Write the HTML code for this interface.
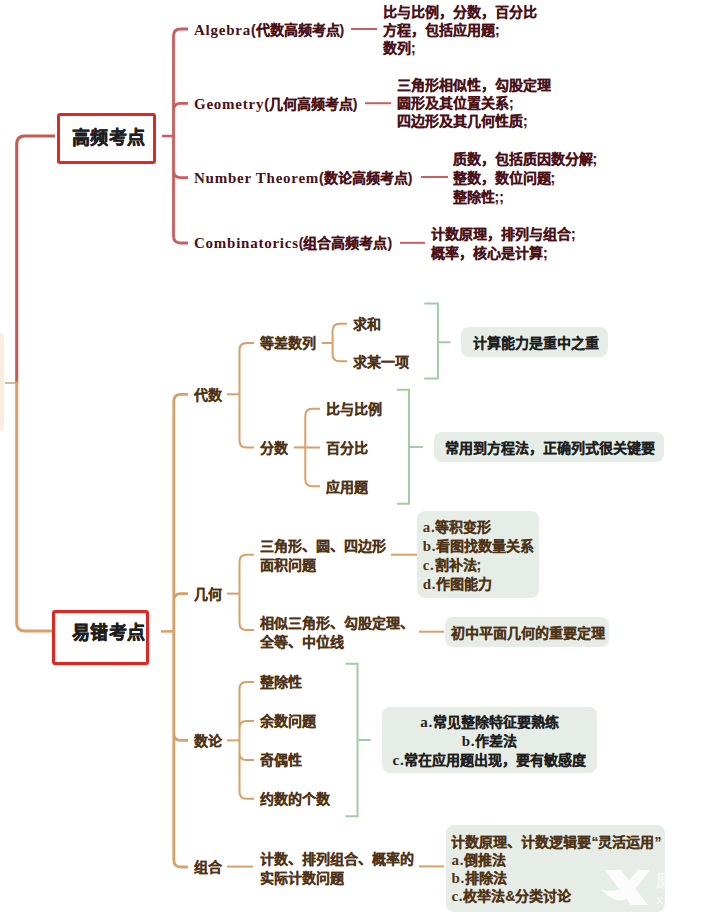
<!DOCTYPE html>
<html lang="zh-CN"><head><meta charset="utf-8">
<style>
html,body{margin:0;padding:0;background:#fff;}
body{width:725px;height:913px;position:relative;overflow:hidden;font-family:"Liberation Sans",sans-serif;}
.t{position:absolute;white-space:nowrap;font-size:14px;font-weight:bold;-webkit-text-stroke:0.15px currentColor;}
.r{color:#4a1016;}
.o{color:#4f3316;}
.k{color:#1e1e1e;}
.en{font-family:"Liberation Serif",serif;letter-spacing:0.75px;font-size:15px;-webkit-text-stroke:0;}
.box{position:absolute;background:#e6ede6;border-radius:8px;}
.nb{position:absolute;border:3px solid #e3261f;border-radius:3px;box-sizing:border-box;}
svg{position:absolute;left:0;top:0;}
</style></head><body>
<div style="position:absolute;left:-10px;top:333px;width:13.6px;height:98px;background:#fcecdf;border-radius:5px;"></div>
<svg width="725" height="913" fill="none"><path d="M16.7 383 V144 Q16.7 136 24.7 136 H55" stroke="#c8594d" stroke-width="3"/>
<path d="M16.7 381.5 V623 Q16.7 631 24.7 631 H53" stroke="#d9a068" stroke-width="3"/>
<path d="M5 383 H16" stroke="#cfab78" stroke-width="1.6"/>
<path d="M162 136 H174" stroke="#cd5c5e" stroke-width="2.5"/>
<path d="M173.5 136 V36 Q173.5 29 180.5 29 H188 M173.5 136 V110.3 Q173.5 103.3 180.5 103.3 H188 M173.5 136 V170.6 Q173.5 177.6 180.5 177.6 H188 M173.5 136 V236 Q173.5 243 180.5 243 H188" stroke="#cd5c5e" stroke-width="2.8"/>
<path d="M351 29 H377" stroke="#cd5c5e" stroke-width="2"/>
<path d="M365 103.2 H391" stroke="#cd5c5e" stroke-width="2"/>
<path d="M421 177 H448" stroke="#cd5c5e" stroke-width="2"/>
<path d="M400 242.8 H425" stroke="#cd5c5e" stroke-width="2"/>
<path d="M161 631.4 H174" stroke="#d9a068" stroke-width="2.5"/>
<path d="M173.8 631.4 V401.3 Q173.8 394.3 180.8 394.3 H188 M173.8 631.4 V600.6 Q173.8 593.6 180.8 593.6 H188 M173.8 631.4 V733.4 Q173.8 740.4 180.8 740.4 H188 M173.8 631.4 V860 Q173.8 867 180.8 867 H188" stroke="#d9a068" stroke-width="2.8"/>
<path d="M227 394.3 H239.5" stroke="#d9a068" stroke-width="2"/>
<path d="M239.5 394.3 V350 Q239.5 343 246.5 343 H254 M239.5 394.3 V440.4 Q239.5 447.4 246.5 447.4 H254" stroke="#d9a068" stroke-width="2"/>
<path d="M321.7 343 H332.6" stroke="#d9a068" stroke-width="2"/>
<path d="M332.6 343 V330.8 Q332.6 323.8 339.6 323.8 H347 M332.6 343 V354.2 Q332.6 361.2 339.6 361.2 H347" stroke="#d9a068" stroke-width="2"/>
<path d="M293.7 447.4 H305.3" stroke="#d9a068" stroke-width="2"/>
<path d="M305.3 447.4 V415.8 Q305.3 408.8 312.3 408.8 H320 M305.3 447.4 H320 M305.3 447.4 V479.2 Q305.3 486.2 312.3 486.2 H320" stroke="#d9a068" stroke-width="2"/>
<path d="M227 593.6 H239.5" stroke="#d9a068" stroke-width="2"/>
<path d="M239.5 593.6 V561.8 Q239.5 554.8 246.5 554.8 H254 M239.5 593.6 V623 Q239.5 630 246.5 630 H254" stroke="#d9a068" stroke-width="2"/>
<path d="M391 554.7 H417" stroke="#d9a068" stroke-width="2"/>
<path d="M419 631.7 H444" stroke="#d9a068" stroke-width="2"/>
<path d="M227 740.4 H239.5" stroke="#d9a068" stroke-width="2"/>
<path d="M239.5 740.4 V688.9 Q239.5 681.9 246.5 681.9 H254 M239.5 740.4 V728 Q239.5 721 246.5 721 H254 M239.5 740.4 V752.9 Q239.5 759.9 246.5 759.9 H254 M239.5 740.4 V791.7 Q239.5 798.7 246.5 798.7 H254" stroke="#d9a068" stroke-width="2"/>
<path d="M227 866.6 H253" stroke="#d9a068" stroke-width="2"/>
<path d="M419 866.4 H444" stroke="#d9a068" stroke-width="2"/>
<path d="M424.2 303.5 H437.9 V378.5 H424.2 M437.9 342.3 H450.5" stroke="#a2cba7" stroke-width="2"/>
<path d="M397 389.7 H409 V503.8 H397 M409 447 H422.7" stroke="#a2cba7" stroke-width="2"/>
<path d="M345.4 663.7 H357.5 V816.3 H345.4 M357.5 740 H370.6" stroke="#a2cba7" stroke-width="2"/></svg>
<div class="nb" style="left:57px;top:113px;width:99px;height:51px;"></div>
<div class="nb" style="left:52px;top:610px;width:96.5px;height:54.5px;"></div>
<div class="t k" style="left:72px;top:127.80px;line-height:20px;font-size:18px;letter-spacing:0.4px;-webkit-text-stroke:0.5px #1e1e1e;">高频考点</div>
<div class="t k" style="left:72px;top:622.70px;line-height:20px;font-size:18px;letter-spacing:0.4px;-webkit-text-stroke:0.5px #1e1e1e;">易错考点</div>
<div class="t r" style="left:194px;top:20.85px;line-height:18.5px;"><span class="en">Algebra</span>(代数高频考点)</div>
<div class="t r" style="left:194px;top:95.05px;line-height:18.5px;"><span class="en">Geometry</span>(几何高频考点)</div>
<div class="t r" style="left:194px;top:169.05px;line-height:18.5px;"><span class="en">Number Theorem</span>(数论高频考点)</div>
<div class="t r" style="left:194px;top:234.35px;line-height:18.5px;"><span class="en">Combinatorics</span>(组合高频考点)</div>
<div class="t r" style="left:383px;top:3.30px;line-height:18px;">比与比例，分数，百分比<br>方程，包括应用题;<br>数列;</div>
<div class="t r" style="left:397px;top:77.15px;line-height:17.9px;">三角形相似性，勾股定理<br>圆形及其位置关系;<br>四边形及其几何性质;</div>
<div class="t r" style="left:452.5px;top:149.80px;line-height:19px;">质数，包括质因数分解;<br>整数，数位问题;<br>整除性;;</div>
<div class="t r" style="left:431px;top:224.80px;line-height:19px;">计数原理，排列与组合;<br>概率，核心是计算;</div>
<div class="t o" style="left:194px;top:386.35px;line-height:18.5px;">代数</div>
<div class="t o" style="left:260px;top:334.35px;line-height:18.5px;">等差数列</div>
<div class="t o" style="left:353px;top:315.15px;line-height:18.5px;">求和</div>
<div class="t o" style="left:353px;top:352.55px;line-height:18.5px;">求某一项</div>
<div class="t o" style="left:260px;top:438.75px;line-height:18.5px;">分数</div>
<div class="t o" style="left:325.6px;top:400.15px;line-height:18.5px;">比与比例</div>
<div class="t o" style="left:325.6px;top:438.75px;line-height:18.5px;">百分比</div>
<div class="t o" style="left:325.6px;top:477.55px;line-height:18.5px;">应用题</div>
<div class="box" style="left:461px;top:327px;width:147px;height:30px;"></div>
<div class="t k" style="left:473px;top:334.35px;line-height:18.5px;">计算能力是重中之重</div>
<div class="box" style="left:433.6px;top:432px;width:230.39999999999998px;height:30.399999999999977px;"></div>
<div class="t k" style="left:445px;top:438.55px;line-height:18.5px;">常用到方程法，正确列式很关键要</div>
<div class="t o" style="left:194px;top:584.95px;line-height:18.5px;">几何</div>
<div class="t o" style="left:260px;top:537.05px;line-height:18.9px;">三角形、圆、四边形<br>面积问题</div>
<div class="t o" style="left:260px;top:613.50px;line-height:19.6px;">相似三角形、勾股定理、<br>全等、中位线</div>
<div class="box" style="left:417px;top:511px;width:122px;height:87px;"></div>
<div class="t o" style="left:422.7px;top:518.45px;line-height:18.9px;"><span class="en">a.</span>等积变形<br><span class="en">b.</span>看图找数量关系<br><span class="en">c.</span>割补法;<br><span class="en">d.</span>作图能力</div>
<div class="box" style="left:445px;top:616.6px;width:163.60000000000002px;height:30.0px;"></div>
<div class="t o" style="left:451px;top:623.85px;line-height:18.5px;">初中平面几何的重要定理</div>
<div class="t o" style="left:194px;top:731.75px;line-height:18.5px;">数论</div>
<div class="t o" style="left:260px;top:673.25px;line-height:18.5px;">整除性</div>
<div class="t o" style="left:260px;top:712.35px;line-height:18.5px;">余数问题</div>
<div class="t o" style="left:260px;top:751.25px;line-height:18.5px;">奇偶性</div>
<div class="t o" style="left:260px;top:790.05px;line-height:18.5px;">约数的个数</div>
<div class="box" style="left:382px;top:707px;width:215px;height:66px;"></div>
<div class="t k" style="left:382px;top:712.50px;line-height:19px;width:215px;text-align:center;"><span class="en">a.</span>常见整除特征要熟练<br><span class="en">b.</span>作差法<br><span class="en">c.</span>常在应用题出现，要有敏感度</div>
<div class="t o" style="left:194px;top:858.35px;line-height:18.5px;">组合</div>
<div class="t o" style="left:260px;top:849.70px;line-height:19px;">计数、排列组合、概率的<br>实际计数问题</div>
<div class="box" style="left:445.5px;top:824.5px;width:219.0px;height:87.5px;"></div>
<div class="t o" style="left:451.4px;top:832.50px;line-height:18.2px;">计数原理、计数逻辑要“灵活运用”<br><span class="en">a.</span>倒推法<br><span class="en">b.</span>排除法<br><span class="en">c.</span>枚举法&amp;分类讨论</div>
<svg width="725" height="913" style="opacity:0.85"><path d="M605 870 H621 L648 905 H631 Z" fill="#fff"/><path d="M638 870 H650 Q636 890 624 900 Q614 903 600 889 Q612 893 620 889 Q630 880 638 870 Z" fill="#fff"/><text x="656" y="887" font-size="17" font-weight="bold" fill="#fff" opacity="0.8" font-family="Liberation Sans">原</text><text x="656" y="904" font-size="13" font-weight="bold" fill="#fff" opacity="0.8" font-family="Liberation Sans">x</text></svg>
</body></html>
